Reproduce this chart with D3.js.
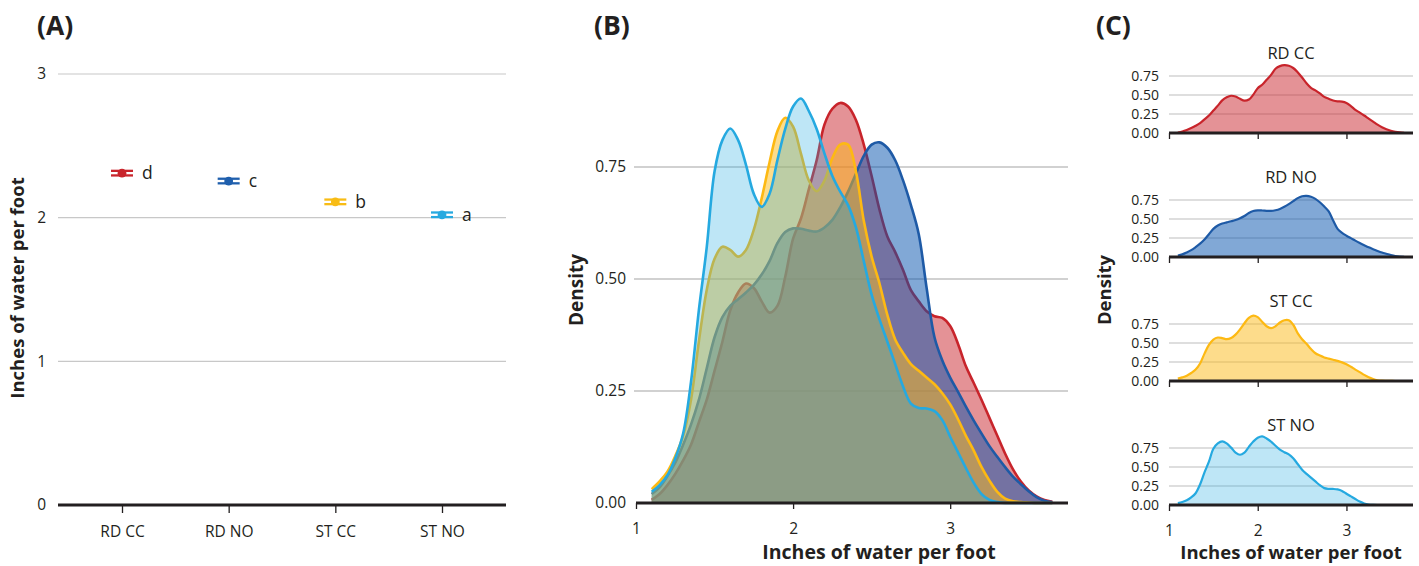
<!DOCTYPE html>
<html><head><meta charset="utf-8">
<script src="https://cdn.jsdelivr.net/npm/d3@7"></script>
<style>
body{margin:0;background:#fff;}
svg{display:block;font-family:"Open Sans","Noto Sans",sans-serif;}
</style></head><body>
<svg id="chart" width="1419" height="566"></svg>
<script>
// ---------- data ----------
const categories = ["RD CC", "RD NO", "ST CC", "ST NO"];
const means = [2.31, 2.255, 2.11, 2.02];
const meanErrors = [0.016, 0.016, 0.016, 0.016];
const groupLetters = ["d", "c", "b", "a"];
const meanTicks = [0, 1, 2, 3];

const xGrid = [1.10,1.15,1.20,1.25,1.30,1.35,1.40,1.45,1.50,1.55,1.60,1.65,1.70,1.75,1.80,1.85,1.90,1.95,2.00,2.05,2.10,2.15,2.20,2.25,2.30,2.35,2.40,2.45,2.50,2.55,2.60,2.65,2.70,2.75,2.80,2.85,2.90,2.95,3.00,3.05,3.10,3.15,3.20,3.25,3.30,3.35,3.40,3.45,3.50,3.55,3.60,3.65];
const densRDCC = [0.007,0.02,0.04,0.065,0.095,0.13,0.18,0.23,0.295,0.36,0.43,0.47,0.49,0.48,0.45,0.425,0.44,0.505,0.59,0.635,0.70,0.765,0.845,0.88,0.893,0.885,0.855,0.80,0.73,0.655,0.595,0.56,0.52,0.475,0.45,0.428,0.417,0.413,0.395,0.355,0.305,0.268,0.23,0.19,0.15,0.11,0.075,0.048,0.028,0.015,0.007,0.003];
const densRDNO = [0.02,0.035,0.06,0.09,0.13,0.175,0.23,0.30,0.37,0.415,0.44,0.455,0.47,0.487,0.51,0.54,0.58,0.605,0.613,0.612,0.608,0.606,0.615,0.632,0.66,0.695,0.735,0.775,0.80,0.805,0.793,0.765,0.72,0.665,0.60,0.48,0.37,0.318,0.28,0.248,0.215,0.184,0.155,0.127,0.103,0.08,0.059,0.042,0.026,0.013,0.005,0.002];
const densSTCC = [0.031,0.048,0.07,0.105,0.15,0.23,0.36,0.475,0.545,0.572,0.565,0.55,0.565,0.61,0.68,0.76,0.83,0.86,0.84,0.78,0.72,0.696,0.72,0.77,0.80,0.80,0.74,0.63,0.55,0.49,0.42,0.365,0.335,0.31,0.295,0.28,0.265,0.245,0.22,0.187,0.15,0.117,0.08,0.05,0.025,0.01,0.004,0.002,0.001,0,0,0];
const densSTNO = [0.025,0.04,0.062,0.10,0.155,0.27,0.43,0.57,0.74,0.81,0.836,0.81,0.755,0.69,0.661,0.69,0.765,0.835,0.885,0.903,0.875,0.835,0.78,0.73,0.695,0.665,0.615,0.54,0.465,0.41,0.36,0.31,0.26,0.222,0.212,0.211,0.205,0.185,0.148,0.113,0.078,0.045,0.02,0.007,0.002,0,0,0,0,0,0,0];
const densityTicks = [0, 0.25, 0.5, 0.75];
const inchTicks = [1, 2, 3];

// ---------- styles ----------
const pointColors = ["#c9252c", "#1f5fad", "#f8bc15", "#26a9e0"];
const strokeColors = ["#c8242b", "#1e5aa6", "#fdb913", "#25a9e0"];
const fillColors = ["#c9262e", "#0352ad", "#fbb917", "#29abe2"];
const fillOpacity = [0.5, 0.5, 0.5, 0.3];
const series = [densRDCC, densRDNO, densSTCC, densSTNO];
const textCol = "#231f20";

const svg = d3.select("#chart");

function panelLabel(x, txt) {
  svg.append("text").attr("x", x).attr("y", 35).attr("font-size", 26.5).attr("font-weight", 700)
    .attr("fill", textCol).text(txt);
}
function yTitle(x, y, txt, fs) {
  svg.append("text").attr("transform", `translate(${x},${y}) rotate(-90)`).attr("text-anchor", "middle")
    .attr("font-size", fs).attr("font-weight", 700).attr("fill", textCol).text(txt);
}
function xTitle(x, y, txt, fs) {
  svg.append("text").attr("x", x).attr("y", y).attr("text-anchor", "middle")
    .attr("font-size", fs).attr("font-weight", 700).attr("fill", textCol).text(txt);
}
function styleAxis(g) {
  g.select(".domain").remove();
  g.selectAll("text").attr("fill", textCol).attr("font-family", '"Open Sans","Noto Sans",sans-serif');
  g.selectAll("line").attr("stroke", "#231f20").attr("stroke-width", 1.3);
}

// ---------- Panel A ----------
const xA = d3.scalePoint().domain(categories).range([58, 506]).padding(0.6);
const yA = d3.scaleLinear().domain([0, 3]).range([505, 74]);
panelLabel(37, "(A)");
const gA = svg.append("g");
gA.selectAll("line.grid").data(meanTicks.filter(d => d > 0)).join("line")
  .attr("x1", 58).attr("x2", 506).attr("y1", d => yA(d)).attr("y2", d => yA(d))
  .attr("stroke", "#c8c8c8").attr("stroke-width", 1.2);
const axA = gA.append("g").attr("transform", `translate(0,${yA(0)})`)
  .call(d3.axisBottom(xA).tickSize(8).tickPadding(13));
styleAxis(axA);
axA.selectAll("text").attr("font-size", 15.5);
gA.append("line").attr("x1", 58).attr("x2", 506).attr("y1", yA(0)).attr("y2", yA(0))
  .attr("stroke", "#231f20").attr("stroke-width", 3);
const ayA = gA.append("g").attr("transform", "translate(58,0)")
  .call(d3.axisLeft(yA).tickValues(meanTicks).tickSize(0).tickPadding(12).tickFormat(d3.format("d")));
styleAxis(ayA);
ayA.selectAll("text").attr("font-size", 15.5);
yTitle(24, 288, "Inches of water per foot", 18.5);

categories.forEach((c, i) => {
  const g = gA.append("g");
  const cx = xA(c);
  const col = pointColors[i];
  [means[i] + meanErrors[i], means[i] - meanErrors[i]].forEach(v => {
    g.append("line").attr("x1", cx - 11).attr("x2", cx + 11).attr("y1", yA(v)).attr("y2", yA(v))
      .attr("stroke", col).attr("stroke-width", 2.3);
  });
  g.append("line").attr("x1", cx).attr("x2", cx).attr("y1", yA(means[i] + meanErrors[i])).attr("y2", yA(means[i] - meanErrors[i]))
    .attr("stroke", col).attr("stroke-width", 2);
  g.append("circle").attr("cx", cx).attr("cy", yA(means[i])).attr("r", 4.4).attr("fill", col);
  g.append("text").attr("x", cx + 20).attr("y", yA(means[i]) + 6).attr("font-size", 17.5)
    .attr("fill", textCol).text(groupLetters[i]);
});

// ---------- Panel B ----------
const xB = d3.scaleLinear().domain([1, 3.75]).range([636, 1068]);
const yB = d3.scaleLinear().domain([0, 1]).range([503, 55]);
panelLabel(594, "(B)");
const gB = svg.append("g");
gB.selectAll("line.grid").data(densityTicks.filter(d => d > 0)).join("line")
  .attr("x1", 634).attr("x2", 1068).attr("y1", d => yB(d)).attr("y2", d => yB(d))
  .attr("stroke", "#a3a3a3").attr("stroke-width", 1.2);
const areaB = d3.area().x((d, j) => xB(xGrid[j])).y0(yB(0)).y1(d => yB(d)).curve(d3.curveCatmullRom);
const lineB = d3.line().x((d, j) => xB(xGrid[j])).y(d => yB(d)).curve(d3.curveCatmullRom);
series.forEach((s, i) => {
  gB.append("path").attr("d", areaB(s)).attr("fill", fillColors[i]).attr("fill-opacity", fillOpacity[i]);
  gB.append("path").attr("d", lineB(s)).attr("fill", "none").attr("stroke", strokeColors[i]).attr("stroke-width", 2.6);
});
const axB = gB.append("g").attr("transform", `translate(0,${yB(0)})`)
  .call(d3.axisBottom(xB).tickValues(inchTicks).tickSize(6).tickPadding(14).tickFormat(d3.format("d")));
styleAxis(axB);
axB.selectAll("text").attr("font-size", 15.5);
gB.append("line").attr("x1", 636).attr("x2", 1068).attr("y1", yB(0)).attr("y2", yB(0))
  .attr("stroke", "#231f20").attr("stroke-width", 3);
const ayB = gB.append("g").attr("transform", "translate(636,0)")
  .call(d3.axisLeft(yB).tickValues(densityTicks).tickSize(0).tickPadding(10).tickFormat(d3.format(".2f")));
styleAxis(ayB);
ayB.selectAll("text").attr("font-size", 15.5);
yTitle(583, 290, "Density", 19);
xTitle(879, 559, "Inches of water per foot", 19.5);

// ---------- Panel C ----------
const xC = d3.scaleLinear().domain([1, 3.75]).range([1169, 1413]);
panelLabel(1096, "(C)");
categories.forEach((c, i) => {
  const base = 133 + i * 124;
  const yC = d3.scaleLinear().domain([0, 1]).range([base, base - 76]);
  const g = svg.append("g");
  g.selectAll("line.grid").data(densityTicks.filter(d => d > 0)).join("line")
    .attr("x1", 1169).attr("x2", 1413).attr("y1", d => yC(d)).attr("y2", d => yC(d))
    .attr("stroke", "#bdbdbd").attr("stroke-width", 1.1);
  const areaC = d3.area().x((d, j) => xC(xGrid[j])).y0(yC(0)).y1(d => yC(d)).curve(d3.curveCatmullRom);
  const lineC = d3.line().x((d, j) => xC(xGrid[j])).y(d => yC(d)).curve(d3.curveCatmullRom);
  g.append("path").attr("d", areaC(series[i])).attr("fill", fillColors[i]).attr("fill-opacity", fillOpacity[i]);
  g.append("path").attr("d", lineC(series[i])).attr("fill", "none").attr("stroke", strokeColors[i]).attr("stroke-width", 2.2);
  const ax = g.append("g").attr("transform", `translate(0,${base})`)
    .call(d3.axisBottom(xC).tickValues(inchTicks).tickSize(6).tickPadding(14)
      .tickFormat(i === 3 ? d3.format("d") : () => ""));
  styleAxis(ax);
  ax.selectAll("text").attr("font-size", 15.5);
  g.append("line").attr("x1", 1169).attr("x2", 1413).attr("y1", base).attr("y2", base)
    .attr("stroke", "#231f20").attr("stroke-width", 3);
  const ay = g.append("g").attr("transform", "translate(1169,0)")
    .call(d3.axisLeft(yC).tickValues(densityTicks).tickSize(0).tickPadding(10).tickFormat(d3.format(".2f")));
  styleAxis(ay);
  ay.selectAll("text").attr("font-size", 14);
  g.append("text").attr("x", 1291).attr("y", base - 74).attr("text-anchor", "middle")
    .attr("font-size", 16.5).attr("fill", textCol).text(c);
});
yTitle(1111, 290, "Density", 18.5);
xTitle(1291, 559, "Inches of water per foot", 18.5);
</script>
</body></html>
